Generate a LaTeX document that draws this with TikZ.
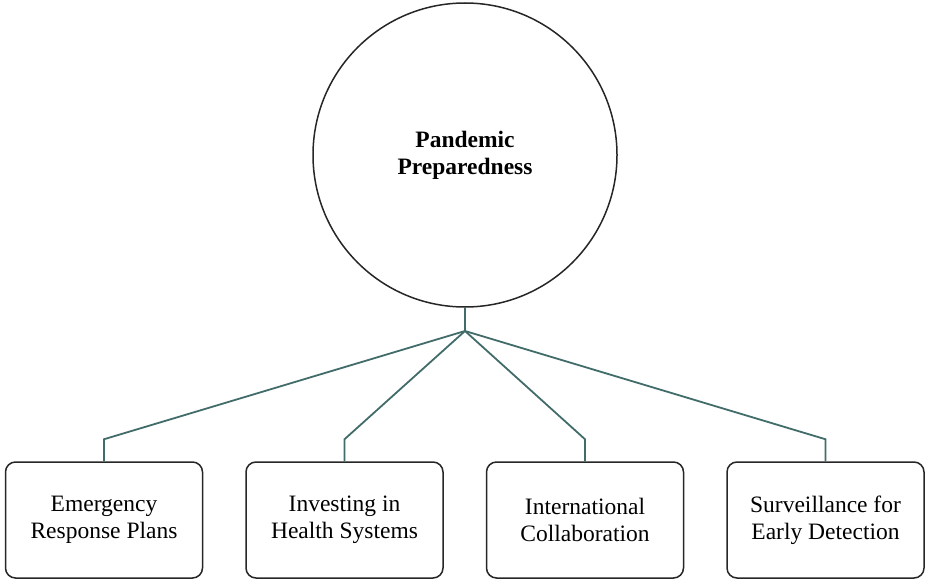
\documentclass[tikz,border=0pt]{standalone}
\usepackage{fontspec}
\setmainfont{Liberation Serif}
\usepackage{tikz}
\usetikzlibrary{positioning}
\definecolor{linkgreen}{HTML}{426C6A}

\begin{document}
\begin{tikzpicture}[
	x=1pt, y=-1pt,
	node distance=42pt,
	hub/.style = {shape=circle, draw=black!85, line width=1.5pt, minimum size=304pt, align=center, font=\fontsize{23.5}{27}\selectfont\bfseries},
	leaf/.style = {shape=rectangle, rounded corners=10pt, draw=black!85, line width=1.5pt, minimum width=197pt, minimum height=116pt, align=center, font=\fontsize{23.5}{27}\selectfont},
	link/.style = {draw=linkgreen, line width=1.8pt},
	]
\useasboundingbox (0,0) rectangle (925,580);
\node[hub] (P) at (465,155) {Pandemic \\ Preparedness};
% leaves, from left to right
\node[leaf] (E) at (104,520) {Emergency \\ Response Plans};
\node[leaf] (H) [right=of E] {Investing in \\ Health Systems};
\node[leaf] (C) [right=of H] {International \\ Collaboration};
\node[leaf] (S) [right=of C] {Surveillance for \\ Early Detection};
% connectors
\coordinate (J) at (465,331);
\draw[link] (P.south) -- (J);
\draw[link] (J) -- ([yshift=22pt]E.north) -- (E.north);
\draw[link] (J) -- ([yshift=22pt]H.north) -- (H.north);
\draw[link] (J) -- ([yshift=22pt]C.north) -- (C.north);
\draw[link] (J) -- ([yshift=22pt]S.north) -- (S.north);
\end{tikzpicture}
\end{document}
